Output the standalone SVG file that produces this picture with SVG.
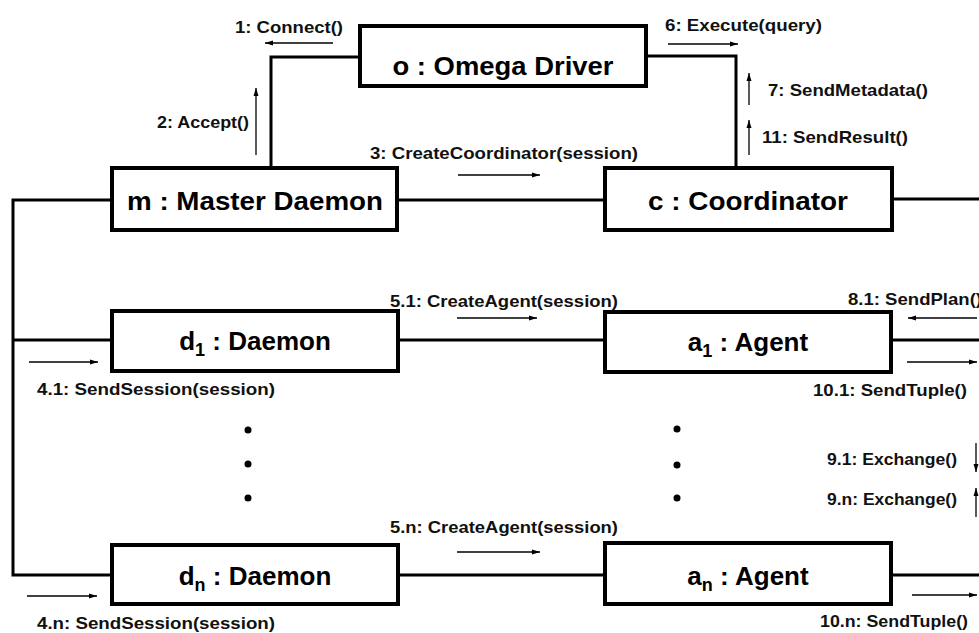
<svg xmlns="http://www.w3.org/2000/svg" width="979" height="633" viewBox="0 0 979 633">
<style>
.box{fill:#fff;stroke:#000;stroke-width:4}
.ln{fill:none;stroke:#000;stroke-width:3}
.ar{fill:none;stroke:#000;stroke-width:1.3;marker-end:url(#ah)}
.nt{font-family:"Liberation Sans",Arial,sans-serif;font-weight:bold;font-size:26px;fill:#000;text-anchor:middle}
.lb{font-family:"Liberation Sans",Arial,sans-serif;font-weight:bold;font-size:17px;fill:#111}
.dot{fill:#000}
</style>
<defs>
<marker id="ah" markerUnits="userSpaceOnUse" markerWidth="9" markerHeight="6" refX="8" refY="3" orient="auto">
<path d="M0,0.5 L8,3 L0,5.5 Z" fill="#000"/>
</marker>
</defs>
<rect width="979" height="633" fill="#fff"/>
<g id="connectors">
<polyline class="ln" points="360,57 271,57 271,168"/>
<polyline class="ln" points="646,56 736,56 736,168"/>
<line class="ln" x1="397" y1="200" x2="605" y2="200"/>
<line class="ln" x1="892" y1="199" x2="979" y2="199"/>
<polyline class="ln" points="112,200 13,200 13,575 112,575"/>
<line class="ln" x1="13" y1="340" x2="112" y2="340"/>
<line class="ln" x1="398" y1="340" x2="605" y2="340"/>
<line class="ln" x1="891" y1="340" x2="979" y2="340"/>
<line class="ln" x1="398" y1="575" x2="605" y2="575"/>
<line class="ln" x1="891" y1="575" x2="979" y2="575"/>
<line class="ar" x1="333" y1="43" x2="265" y2="43"/>
<line class="ar" x1="256" y1="155" x2="256" y2="88"/>
<line class="ar" x1="458" y1="175" x2="540" y2="175"/>
<line class="ar" x1="668" y1="44" x2="738" y2="44"/>
<line class="ar" x1="749" y1="105" x2="749" y2="73"/>
<line class="ar" x1="749" y1="155" x2="749" y2="120"/>
<line class="ar" x1="29" y1="362" x2="98" y2="362"/>
<line class="ar" x1="457" y1="318" x2="537" y2="318"/>
<line class="ar" x1="977" y1="318" x2="908" y2="318"/>
<line class="ar" x1="907" y1="362" x2="977" y2="362"/>
<line class="ar" x1="976" y1="443" x2="976" y2="472"/>
<line class="ar" x1="976" y1="517" x2="976" y2="488"/>
<line class="ar" x1="27" y1="596" x2="97" y2="596"/>
<line class="ar" x1="457" y1="552" x2="540" y2="552"/>
<line class="ar" x1="912" y1="595" x2="977" y2="595"/>
<text class="lb" x="235" y="33" textLength="108" lengthAdjust="spacingAndGlyphs">1: Connect()</text>
<text class="lb" x="157" y="128" textLength="92" lengthAdjust="spacingAndGlyphs">2: Accept()</text>
<text class="lb" x="370" y="159" textLength="268" lengthAdjust="spacingAndGlyphs">3: CreateCoordinator(session)</text>
<text class="lb" x="665" y="31" textLength="157" lengthAdjust="spacingAndGlyphs">6: Execute(query)</text>
<text class="lb" x="768" y="96" textLength="160" lengthAdjust="spacingAndGlyphs">7: SendMetadata()</text>
<text class="lb" x="762" y="143" textLength="146" lengthAdjust="spacingAndGlyphs">11: SendResult()</text>
<text class="lb" x="37" y="395" textLength="238" lengthAdjust="spacingAndGlyphs">4.1: SendSession(session)</text>
<text class="lb" x="390" y="307" textLength="228" lengthAdjust="spacingAndGlyphs">5.1: CreateAgent(session)</text>
<text class="lb" x="848" y="305" textLength="134" lengthAdjust="spacingAndGlyphs">8.1: SendPlan()</text>
<text class="lb" x="813" y="396" textLength="154" lengthAdjust="spacingAndGlyphs">10.1: SendTuple()</text>
<text class="lb" x="827" y="465" textLength="130" lengthAdjust="spacingAndGlyphs">9.1: Exchange()</text>
<text class="lb" x="827" y="505" textLength="130" lengthAdjust="spacingAndGlyphs">9.n: Exchange()</text>
<text class="lb" x="390" y="533" textLength="228" lengthAdjust="spacingAndGlyphs">5.n: CreateAgent(session)</text>
<text class="lb" x="37" y="629" textLength="238" lengthAdjust="spacingAndGlyphs">4.n: SendSession(session)</text>
<text class="lb" x="820" y="627" textLength="148" lengthAdjust="spacingAndGlyphs">10.n: SendTuple()</text>
</g>
<g id="omega">
<rect class="box" x="360" y="26" width="286" height="60"/>
<text class="nt" x="503" y="75" textLength="221" lengthAdjust="spacingAndGlyphs">o : Omega Driver</text>
</g>
<g id="master">
<rect class="box" x="112" y="168" width="285" height="62"/>
<text class="nt" x="255" y="210" textLength="256" lengthAdjust="spacingAndGlyphs">m : Master Daemon</text>
</g>
<g id="coordinator">
<rect class="box" x="605" y="168" width="287" height="62"/>
<text class="nt" x="748" y="210" textLength="200" lengthAdjust="spacingAndGlyphs">c : Coordinator</text>
</g>
<g id="d1">
<rect class="box" x="112" y="311" width="286" height="60"/>
<text class="nt" x="255" y="350" font-size="27">d<tspan font-size="18" dy="6">1</tspan><tspan dy="-6"> : Daemon</tspan></text>
</g>
<g id="a1">
<rect class="box" x="605" y="312" width="286" height="60"/>
<text class="nt" x="748" y="351" font-size="27">a<tspan font-size="18" dy="6">1</tspan><tspan dy="-6"> : Agent</tspan></text>
</g>
<g id="dn">
<rect class="box" x="112" y="545" width="286" height="59"/>
<text class="nt" x="255" y="585" font-size="27">d<tspan font-size="18" dy="6">n</tspan><tspan dy="-6"> : Daemon</tspan></text>
</g>
<g id="an">
<rect class="box" x="605" y="543" width="286" height="61"/>
<text class="nt" x="748" y="585" font-size="27">a<tspan font-size="18" dy="6">n</tspan><tspan dy="-6"> : Agent</tspan></text>
</g>
<g id="ellipsis">
<circle class="dot" cx="248" cy="430" r="3.5"/>
<circle class="dot" cx="248" cy="464" r="3.5"/>
<circle class="dot" cx="248" cy="498" r="3.5"/>
<circle class="dot" cx="677" cy="429" r="3.5"/>
<circle class="dot" cx="677" cy="465" r="3.5"/>
<circle class="dot" cx="677" cy="498" r="3.5"/>
</g>
</svg>
